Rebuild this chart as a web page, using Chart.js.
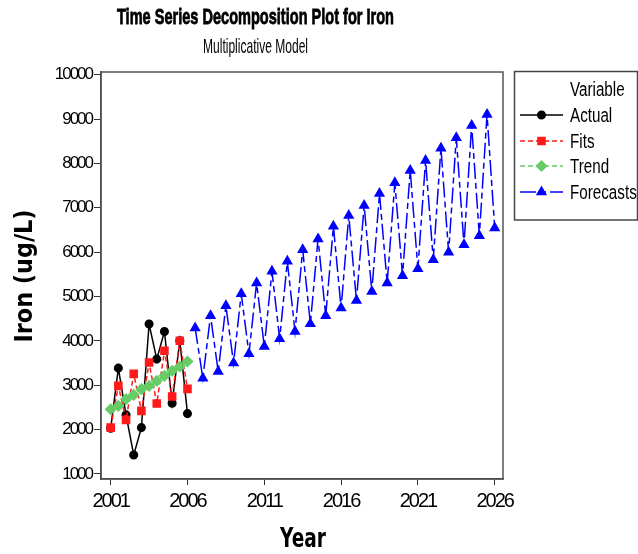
<!DOCTYPE html>
<html>
<head>
<meta charset="utf-8">
<title>Time Series Decomposition Plot for Iron</title>
<script src="https://cdn.jsdelivr.net/npm/chart.js@4.4.1/dist/chart.umd.min.js"></script>
<style>
  html, body { margin: 0; padding: 0; background: #fff; }
  #wrap { width: 638px; height: 554px; }
</style>
</head>
<body>
<div id="wrap"><canvas id="ironChart"></canvas></div>
<script>
// half-year periods: observed 2001.0 - 2006.0, forecasts 2006.5 - 2026.0
const firstYear = 2001;
const periodStep = 0.5;

const actualValues = [2030, 3386, 2332, 1429, 2045, 4379, 3589, 4212, 2596, 4002, 2361];
const fitsValues = [2045, 2986, 2219, 3257, 2422, 3512, 2587, 3777, 2745, 4002, 2919];
const trendValues = [2460, 2535, 2686, 2783, 2912, 2986, 3099, 3212, 3325, 3422, 3535];
const forecastValues = [
  4289, 3160, 4567, 3309, 4792, 3499, 5063, 3709, 5305, 3874,
  5567, 4047, 5792, 4212, 6056, 4386, 6298, 4567, 6582, 4740,
  6824, 4912, 7050, 5115, 7320, 5305, 7562, 5469, 7840, 5627,
  8065, 5831, 8343, 5995, 8578, 6169, 8855, 6372, 9104, 6546
];

const xTickLabels = [2001, 2006, 2011, 2016, 2021, 2026];
const yTickLabels = [1000, 2000, 3000, 4000, 5000, 6000, 7000, 8000, 9000, 10000];

const seriesNames = ["Actual", "Fits", "Trend", "Forecasts"];
const seriesColors = ["#000000", "#ff1a1a", "#66cc66", "#0000ff"];

function toPoints(values, start) {
  return values.map((v, i) => ({ x: start + i * periodStep, y: v }));
}

const forecastStart = firstYear + actualValues.length * periodStep;

// draw text squeezed horizontally to a target width (the reference uses a narrow face)
function fitText(ctx, text, x, y, font, width, opts) {
  opts = opts || {};
  ctx.save();
  ctx.letterSpacing = "0px";
  ctx.font = font;
  ctx.fillStyle = "#000";
  ctx.strokeStyle = "#000";
  ctx.textAlign = opts.align || "center";
  ctx.textBaseline = opts.baseline || "alphabetic";
  const sx = opts.sx || width / ctx.measureText(text).width;
  ctx.translate(x, y);
  if (opts.rotate) ctx.rotate(opts.rotate);
  ctx.scale(sx, 1);
  ctx.fillText(text, 0, 0);
  if (opts.heavy) {
    ctx.lineWidth = opts.heavy;
    ctx.strokeText(text, 0, 0);
  }
  ctx.restore();
}

const decor = {
  id: "decor",
  beforeDraw(chart) {
    chart.ctx.letterSpacing = "-2px";
  },
  beforeDatasetsDraw(chart) {
    chart.ctx.letterSpacing = "0px";
  },
  afterDraw(chart) {
    const ctx = chart.ctx;
    const a = chart.chartArea;

    // plot frame
    ctx.save();
    ctx.strokeStyle = "#555";
    ctx.lineWidth = 1.5;
    ctx.strokeRect(a.left, a.top, a.right - a.left, a.bottom - a.top);
    ctx.restore();

    // titles
    fitText(ctx, "Time Series Decomposition Plot for Iron", 255.5, 24, 'bold 22px "Liberation Sans"', 277, { heavy: 0.8 });
    fitText(ctx, "Multiplicative Model", 255.5, 53, '21px "Liberation Sans"', 105);
    fitText(ctx, "Iron (ug/L)", 26, 276, 'bold 24px "DejaVu Sans"', 133, { rotate: -Math.PI / 2, baseline: "middle" });
    fitText(ctx, "Year", 303, 547, 'bold 27px "DejaVu Sans"', 46);

    // legend
    ctx.save();
    ctx.strokeStyle = "#444";
    ctx.lineWidth = 1.5;
    ctx.strokeRect(514.5, 71.5, 123, 148.5);
    ctx.restore();
    fitText(ctx, "Variable", 570, 95.5, '20px "Liberation Sans"', 0, { align: "left", sx: 0.76 });
    const rowY = [115, 141, 166, 192];
    chart.data.datasets.forEach((ds, i) => {
      const y = rowY[i];
      ctx.save();
      ctx.strokeStyle = ds.borderColor;
      ctx.fillStyle = ds.borderColor;
      ctx.lineWidth = 1.5;
      ctx.setLineDash(ds.borderDash || []);
      ctx.beginPath();
      ctx.moveTo(520, y);
      ctx.lineTo(563, y);
      ctx.stroke();
      ctx.setLineDash([]);
      Chart.helpers.drawPoint(ctx, {
        pointStyle: ds.pointStyle, radius: ds.pointRadius, rotation: 0, borderWidth: 1
      }, 541.5, y);
      ctx.restore();
      fitText(ctx, ds.label, 570, y + 7, '20px "Liberation Sans"', 0, { align: "left", sx: 0.76 });
    });
  }
};

new Chart(document.getElementById("ironChart"), {
  type: "line",
  data: {
    datasets: [
      {
        label: seriesNames[0],
        data: toPoints(actualValues, firstYear),
        borderColor: seriesColors[0],
        backgroundColor: seriesColors[0],
        borderWidth: 1.5,
        pointStyle: "circle",
        pointRadius: 3.8,
        order: 3
      },
      {
        label: seriesNames[1],
        data: toPoints(fitsValues, firstYear),
        borderColor: seriesColors[1],
        backgroundColor: seriesColors[1],
        borderWidth: 1.5,
        borderDash: [5, 3],
        pointStyle: "rect",
        pointRadius: 5,
        order: 2
      },
      {
        label: seriesNames[2],
        data: toPoints(trendValues, firstYear),
        borderColor: seriesColors[2],
        backgroundColor: seriesColors[2],
        borderWidth: 1.5,
        borderDash: [5, 3],
        pointStyle: "rectRot",
        pointRadius: 5,
        order: 1
      },
      {
        label: seriesNames[3],
        data: toPoints(forecastValues, forecastStart),
        borderColor: seriesColors[3],
        backgroundColor: seriesColors[3],
        borderWidth: 1.5,
        borderDash: [16, 4, 6, 4],
        pointStyle: "triangle",
        pointRadius: 5,
        order: 4
      }
    ]
  },
  options: {
    responsive: true,
    maintainAspectRatio: false,
    animation: false,
    devicePixelRatio: 1,
    layout: { padding: { left: 0, top: 72, right: 135, bottom: 0 } },
    elements: { line: { tension: 0 }, point: { borderWidth: 1 } },
    plugins: {
      legend: { display: false },
      title: { display: false },
      tooltip: { enabled: false }
    },
    scales: {
      x: {
        type: "linear",
        min: 2000.37,
        max: 2026.54,
        afterBuildTicks: (s) => { s.ticks = xTickLabels.map(v => ({ value: v })); },
        afterFit: (s) => { s.height = 75; },
        grid: { drawOnChartArea: false, tickLength: 6, color: "#333" },
        border: { color: "#333", width: 1.5 },
        ticks: {
          color: "#000",
          padding: 4,
          maxRotation: 0,
          autoSkip: false,
          font: { family: "Liberation Sans", size: 20 },
          callback: (v) => String(v)
        }
      },
      y: {
        type: "linear",
        min: 887,
        max: 10060,
        afterBuildTicks: (s) => { s.ticks = yTickLabels.map(v => ({ value: v })); },
        afterFit: (s) => { s.width = 101; },
        grid: { drawOnChartArea: false, tickLength: 7, color: "#333" },
        border: { color: "#333", width: 1.5 },
        ticks: {
          color: "#000",
          padding: 2,
          autoSkip: false,
          font: { family: "Liberation Sans", size: 17 },
          callback: (v) => String(v)
        }
      }
    }
  },
  plugins: [decor]
});
</script>
</body>
</html>
